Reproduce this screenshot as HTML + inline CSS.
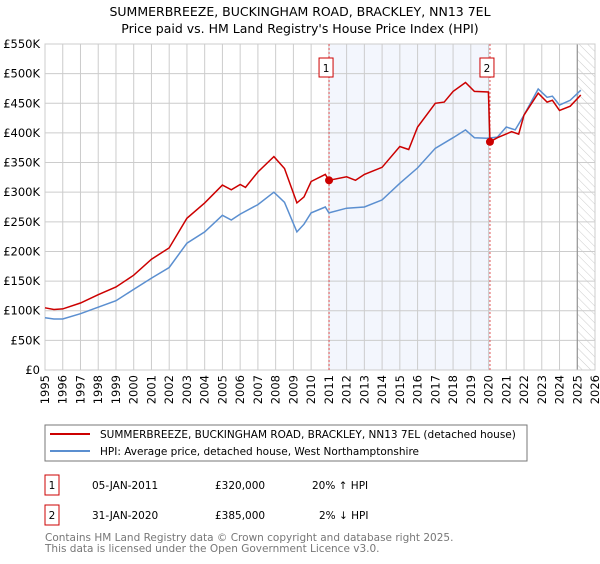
<!DOCTYPE html>
<html><head><meta charset="utf-8"><style>
body{margin:0;background:#fff;font-family:"DejaVu Sans","Liberation Sans",sans-serif;}
svg text{font-family:"DejaVu Sans","Liberation Sans",sans-serif;}
</style></head><body>
<svg id="chart" width="600" height="560" xmlns="http://www.w3.org/2000/svg">
<defs><pattern id="hatch" width="6" height="6" patternUnits="userSpaceOnUse" patternTransform="rotate(-45)"><line x1="0" y1="0" x2="0" y2="6" stroke="#ccc" stroke-width="1"/></pattern></defs>
<text x="300" y="16" text-anchor="middle" font-size="12.5">SUMMERBREEZE, BUCKINGHAM ROAD, BRACKLEY, NN13 7EL</text>
<text x="300" y="33" text-anchor="middle" font-size="12.5">Price paid vs. HM Land Registry's House Price Index (HPI)</text>
<g id="plot"></g>
<g>
<rect x="45" y="425" width="482" height="36" fill="#fff" stroke="#777"/>
<line x1="50" y1="434" x2="90" y2="434" stroke="#cc0000" stroke-width="2"/>
<text x="100" y="438" font-size="10.5">SUMMERBREEZE, BUCKINGHAM ROAD, BRACKLEY, NN13 7EL (detached house)</text>
<line x1="50" y1="451" x2="90" y2="451" stroke="#5b8fd0" stroke-width="2"/>
<text x="100" y="455" font-size="10.5">HPI: Average price, detached house, West Northamptonshire</text>
</g>
<g font-size="10.5">
<rect x="45" y="475" width="14" height="20" fill="#fff" stroke="#cc0000"/><text x="52" y="489" text-anchor="middle">1</text>
<text x="92" y="489">05-JAN-2011</text><text x="215" y="489">£320,000</text><text x="312" y="489">20% ↑ HPI</text>
<rect x="45" y="505" width="14" height="20" fill="#fff" stroke="#cc0000"/><text x="52" y="519" text-anchor="middle">2</text>
<text x="92" y="519">31-JAN-2020</text><text x="215" y="519">£385,000</text><text x="319" y="519">2% ↓ HPI</text>
</g>
<text x="45" y="541" font-size="10.5" fill="#777">Contains HM Land Registry data © Crown copyright and database right 2025.</text>
<text x="45" y="552" font-size="10.5" fill="#777">This data is licensed under the Open Government Licence v3.0.</text>
</svg>
<script>
const hpiYears=[1995,1995.5,1996,1997,1998,1999,2000,2001,2002,2003,2004,2005,2005.5,2006,2007,2007.9,2008.5,2009.2,2009.6,2010,2010.8,2011,2012,2013,2014,2015,2016,2017,2018,2018.7,2019.2,2019.9,2020.5,2021,2021.5,2022,2022.8,2023.3,2023.6,2024,2024.6,2025.2];
const hpiValues=[88,86,86,95,106,117,136,155,173,214,233,261,253,263,279,300,283,233,246,265,275,265,273,275,287,315,341,374,392,405,392,391,393,410,405,430,474,460,462,447,455,472];
const redYears=[1995,1995.5,1996,1997,1998,1999,2000,2001,2002,2003,2004,2005,2005.5,2006,2006.3,2007,2007.9,2008.5,2009.2,2009.6,2010,2010.8,2011,2012,2012.5,2013,2014,2015,2015.5,2016,2017,2017.5,2018,2018.7,2019.2,2019.99,2020.08,2020.5,2021.3,2021.7,2022,2022.8,2023.3,2023.6,2024,2024.6,2025.2];
const redValues=[105,102,103,113,127,140,160,187,206,256,282,312,304,313,308,334,360,340,282,292,318,330,320,326,320,330,342,377,372,410,450,452,470,485,470,469,385,392,402,398,430,467,452,455,438,445,464];
const yTicks=[0,50,100,150,200,250,300,350,400,450,500,550];
const yTickLabels=["£0","£50K","£100K","£150K","£200K","£250K","£300K","£350K","£400K","£450K","£500K","£550K"];
const xTicks=[1995,1996,1997,1998,1999,2000,2001,2002,2003,2004,2005,2006,2007,2008,2009,2010,2011,2012,2013,2014,2015,2016,2017,2018,2019,2020,2021,2022,2023,2024,2025,2026];
const sales=[{label:"1",year:2011.01,value:320},{label:"2",year:2020.08,value:385}];
const x0=45,x1=595,y0=370,y1=44,xMin=1995,xMax=2026,yMax=550;
const X=v=>x0+(v-xMin)/(xMax-xMin)*(x1-x0);
const Y=v=>y0-v/yMax*(y0-y1);
const NS="http://www.w3.org/2000/svg";
const g=document.getElementById('plot');
function mk(t,a,p){const e=document.createElementNS(NS,t);for(const k in a)e.setAttribute(k,a[k]);(p||g).appendChild(e);return e;}
let e=mk('rect',{x:X(sales[0].year),y:y1,width:X(sales[1].year)-X(sales[0].year),height:y0-y1,fill:'#eef2fc',opacity:0.7});


e=mk('rect',{x:X(2025),y:y1,width:x1-X(2025),height:y0-y1,fill:'url(#hatch)'});


yTicks.forEach((t,i)=>{
 e=mk('line',{x1:x0,x2:x1,y1:Y(t),y2:Y(t),stroke:'#ccc'});
 
 
 e=mk('text',{x:40,y:Y(t)+4,'text-anchor':'end','font-size':'11.5'});e.textContent=yTickLabels[i];
 
 
});
xTicks.forEach(t=>{
 e=mk('line',{x1:X(t),x2:X(t),y1:y1,y2:y0,stroke:'#ccc'});
 
 
 e=mk('text',{x:X(t)+4,y:y0+5,'text-anchor':'end','font-size':'11.5',transform:`rotate(-90 ${X(t)+4} ${y0+5})`});e.textContent=t;
 
 
});
e=mk('line',{x1:X(2025),x2:X(2025),y1:y1,y2:y0,stroke:'#888'});


e=mk('rect',{x:x0,y:y1,width:x1-x0,height:y0-y1,fill:'none',stroke:'#ccc'});


sales.forEach(s=>{
 e=mk('line',{x1:X(s.year),x2:X(s.year),y1:y1,y2:y0,stroke:'#e05050','stroke-dasharray':'2,2'});
 
 
});
function pts(xs,vs){return xs.map((v,i)=>X(v).toFixed(1)+','+Y(vs[i]).toFixed(1)).join(' ');}
e=mk('polyline',{points:pts(hpiYears,hpiValues),fill:'none',stroke:'#5b8fd0','stroke-width':1.5});


e=mk('polyline',{points:pts(redYears,redValues),fill:'none',stroke:'#cc0000','stroke-width':1.5});


sales.forEach(s=>{
 e=mk('circle',{cx:X(s.year),cy:Y(s.value),r:4,fill:'#cc0000'});
 
 
 e=mk('rect',{x:X(s.year)-10,y:58,width:14,height:19,fill:'#fff',stroke:'#cc0000'});
 
 
 e=mk('text',{x:X(s.year)-3,y:72,'text-anchor':'middle','font-size':'10.5'});e.textContent=s.label;
 
 
});
</script>
</body></html>
